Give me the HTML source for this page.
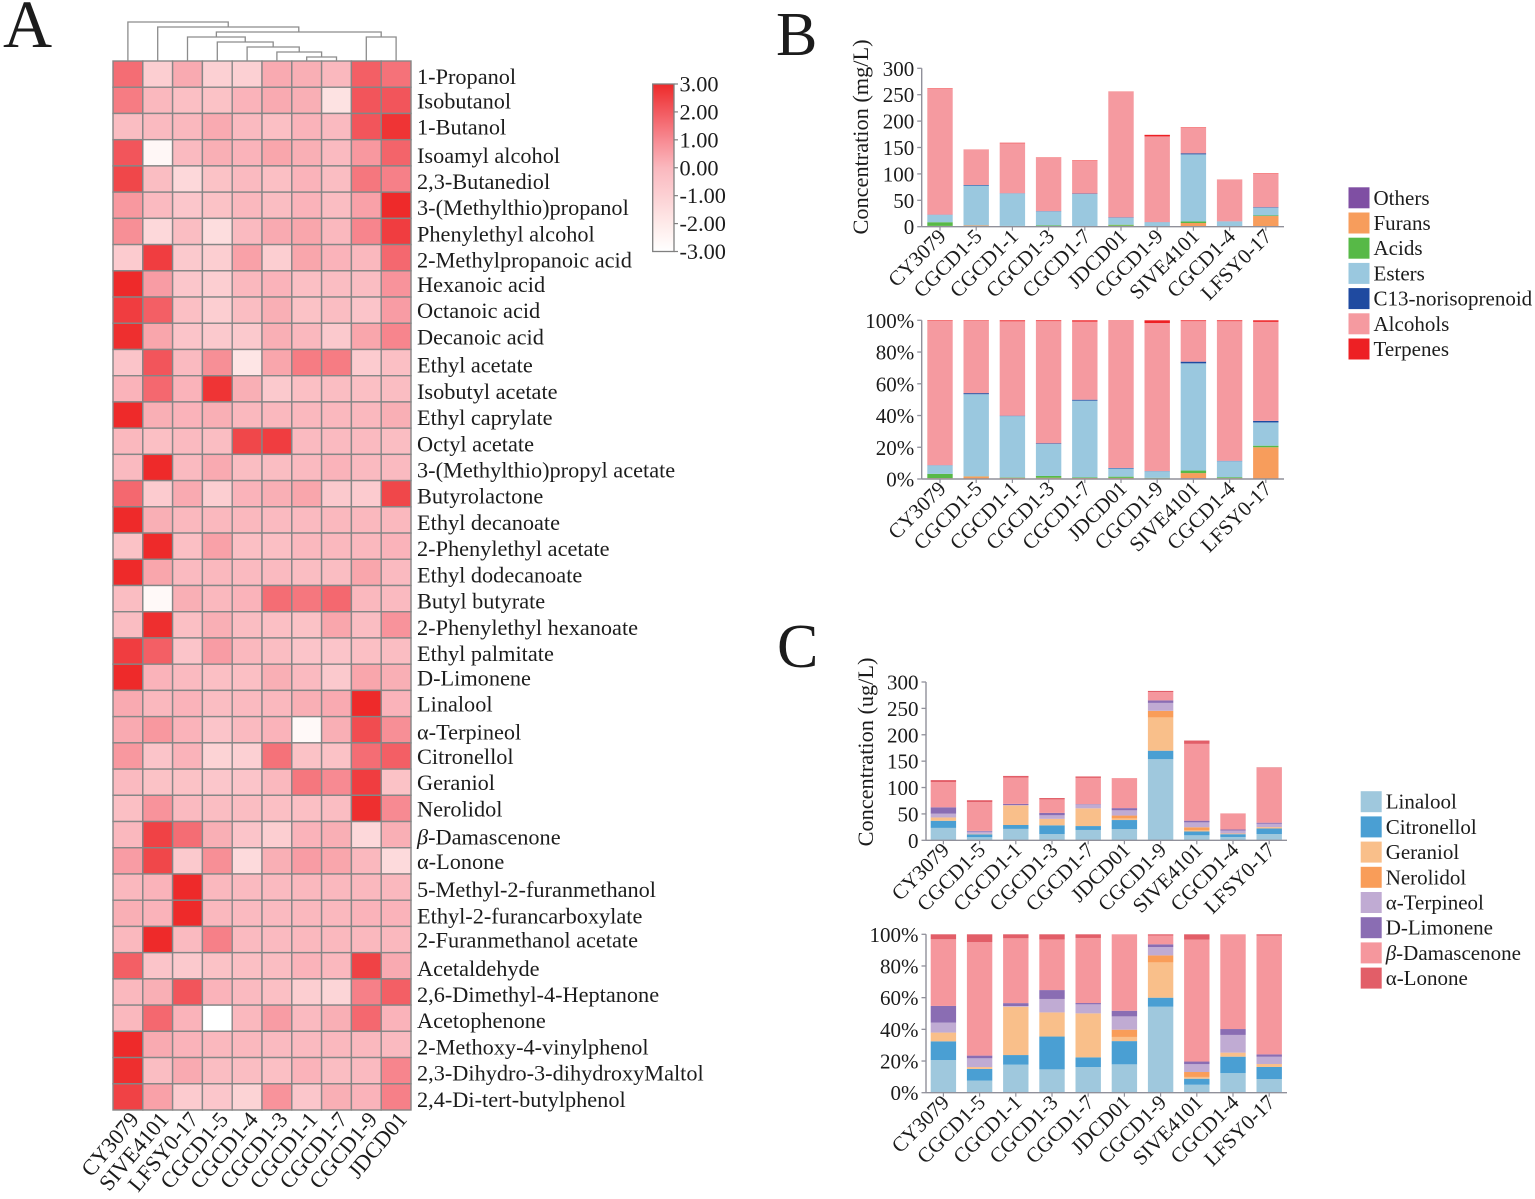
<!DOCTYPE html>
<html lang="en">
<head>
<meta charset="utf-8">
<title>Volatile compound heatmap and stacked bar charts</title>
<style>
html,body{margin:0;padding:0;background:#fff;}
svg{display:block;}
text{font-family:"Liberation Serif","DejaVu Serif",serif;fill:#1c1c1c;font-size:21px;}
text.big{font-size:22.3px;}
</style>
</head>
<body>
<svg id="figure" xmlns="http://www.w3.org/2000/svg" width="1535" height="1199" viewBox="0 0 1535 1199">
  <defs>
    <linearGradient id="cbar" x1="0" y1="1" x2="0" y2="0"></linearGradient>
  </defs>
  <text x="3" y="47" style="font-size:68px">A</text>
  <text x="776" y="55" style="font-size:62px">B</text>
  <text x="777" y="667" style="font-size:62px">C</text>
  <g id="heatmap"></g>
  <g id="dendrogram"></g>
  <g id="colorbar"></g>
  <g id="chartB1"></g>
  <g id="chartB2"></g>
  <g id="chartC1"></g>
  <g id="chartC2"></g>
  <g id="legendB"></g>
  <g id="legendC"></g>
</svg>
<script>
// ---------- Heatmap data ----------
const hmColumns = ["CY3079","SIVE4101","LFSY0-17","CGCD1-5","CGCD1-4","CGCD1-3","CGCD1-1","CGCD1-7","CGCD1-9","JDCD01"];
const hmRows = ["1-Propanol","Isobutanol","1-Butanol","Isoamyl alcohol","2,3-Butanediol","3-(Methylthio)propanol","Phenylethyl alcohol","2-Methylpropanoic acid","Hexanoic acid","Octanoic acid","Decanoic acid","Ethyl acetate","Isobutyl acetate","Ethyl caprylate","Octyl acetate","3-(Methylthio)propyl acetate","Butyrolactone","Ethyl decanoate","2-Phenylethyl acetate","Ethyl dodecanoate","Butyl butyrate","2-Phenylethyl hexanoate","Ethyl palmitate","D-Limonene","Linalool","α-Terpineol","Citronellol","Geraniol","Nerolidol","β-Damascenone","α-Lonone","5-Methyl-2-furanmethanol","Ethyl-2-furancarboxylate","2-Furanmethanol acetate","Acetaldehyde","2,6-Dimethyl-4-Heptanone","Acetophenone","2-Methoxy-4-vinylphenol","2,3-Dihydro-3-dihydroxyMaltol","2,4-Di-tert-butylphenol"];
const hmRaisedLabels = ["Isobutanol","1-Butanol","Hexanoic acid","Octanoic acid","Decanoic acid","D-Limonene","Linalool","Citronellol","Geraniol","Nerolidol","α-Lonone","2-Furanmethanol acetate"];
const hmValues = [
[1.6,-0.9,0.3,-1.0,-1.0,0.3,0.2,0.0,1.9,1.5],
[1.3,0.0,-0.3,-0.4,0.1,0.3,0.2,-1.7,2.1,2.1],
[-0.2,-0.1,0.0,0.3,-0.1,-0.3,0.1,-0.1,2.1,2.8],
[2.1,-2.6,-0.1,0.2,0.1,0.4,0.2,-0.1,0.7,1.8],
[2.4,-0.2,-1.3,-0.4,-0.1,-0.3,0.1,-0.2,1.4,1.2],
[0.7,-0.1,-0.6,-0.4,0.0,-0.2,0.1,-0.2,0.5,3.0],
[0.9,-1.3,-0.2,-1.5,-0.1,0.3,0.4,0.0,1.1,2.6],
[-0.8,2.6,-0.7,-0.9,0.5,-0.9,0.4,0.1,0.0,1.7],
[3.0,0.6,-0.6,-0.9,0.0,0.1,-0.3,-0.2,-0.2,0.8],
[2.6,1.9,-0.3,-0.9,-0.2,0.2,-0.4,-0.2,-0.5,0.6],
[2.9,0.4,-0.5,-0.7,-0.7,0.2,0.0,-0.7,0.4,1.1],
[-0.5,2.1,-0.1,0.9,-1.8,0.4,1.3,1.3,-0.8,-0.3],
[0.1,1.7,0.1,2.8,0.2,-0.7,-0.3,-0.2,-0.3,-0.2],
[3.0,0.2,0.1,0.2,0.0,0.0,0.0,0.0,0.0,0.2],
[0.0,-0.3,-0.1,-0.2,2.4,2.6,-0.1,-0.1,-0.1,-0.2],
[-0.1,3.0,-0.1,0.3,-0.2,-0.2,-0.1,0.1,-0.1,-0.1],
[1.7,-0.8,0.3,-0.9,0.1,0.2,0.4,-0.7,-0.8,2.4],
[3.0,0.2,0.0,0.0,0.0,-0.1,-0.1,0.0,0.0,0.0],
[-0.4,3.0,-0.3,0.5,-0.3,-0.3,0.0,0.0,0.0,0.1],
[3.0,0.4,-0.1,0.0,-0.1,-0.1,-0.2,-0.2,0.4,-0.1],
[-0.2,-2.7,0.2,0.0,0.1,1.6,1.4,1.7,0.0,-0.1],
[-0.2,2.9,-0.3,0.2,-0.2,-0.3,-0.4,0.4,-0.2,0.8],
[2.6,1.9,-0.5,0.6,0.0,-0.2,-0.5,-0.5,-0.3,-0.2],
[3.0,0.1,-0.1,-0.3,-0.3,0.2,-0.1,-0.7,0.4,0.2],
[0.3,0.0,0.1,-0.2,-0.1,0.0,0.2,0.3,3.0,0.1],
[0.3,0.7,0.1,-0.5,-0.1,0.1,-2.7,0.2,2.3,0.9],
[0.7,-0.5,0.1,-1.1,-1.0,1.5,-0.4,-0.4,1.6,1.9],
[-0.1,-0.4,-0.4,-0.6,-0.5,0.0,1.4,1.0,2.6,-0.4],
[-0.3,0.8,-0.1,-0.2,-0.2,-0.3,-0.3,-0.2,2.9,1.0],
[0.0,2.5,1.6,0.2,-0.5,-0.9,0.1,0.2,-1.3,0.2],
[0.6,2.4,-0.7,0.9,-1.4,0.2,0.6,0.4,0.0,-1.4],
[0.0,0.1,3.0,0.0,-0.1,-0.1,0.0,0.0,0.0,0.0],
[0.2,0.1,3.0,0.0,-0.1,-0.1,0.0,0.0,0.1,0.1],
[0.0,3.0,-0.1,1.2,-0.1,-0.1,0.0,0.0,0.0,0.0],
[1.9,-0.5,-0.7,-0.4,-0.3,-0.2,0.1,0.0,2.5,0.3],
[0.0,0.2,2.1,0.1,-0.1,-0.3,-0.9,-1.2,1.2,1.9],
[0.0,1.7,0.1,-3.0,0.0,0.6,-0.1,0.2,1.7,0.1],
[3.0,0.3,0.1,0.0,0.0,-0.1,-0.1,0.0,0.0,-0.1],
[2.9,-0.2,0.3,-0.2,-0.2,-0.3,0.1,-0.2,-0.1,1.1],
[2.5,0.5,-0.8,-0.6,-1.1,0.8,-0.6,0.2,0.1,1.2]
];
// dendrogram merges: [left node, right node, height]; nodes 0-9 are leaves, 10+ are earlier merges
const dendroMerges = [[6,7,4],[5,10,9],[4,11,14],[3,12,19],[2,13,24],[8,9,24],[14,15,29],[1,16,34],[0,17,39]];
const colorbarTicks = ["3.00","2.00","1.00","0.00","-1.00","-2.00","-3.00"];

// ---------- Panel B data (mg/L) ----------
const bCategories = ["CY3079","CGCD1-5","CGCD1-1","CGCD1-3","CGCD1-7","JDCD01","CGCD1-9","SIVE4101","CGCD1-4","LFSY0-17"];
const bOthers =   [1,0.3,0.2,0.5,0.3,0.8,0.3,1,0.2,0.2];
const bFurans =   [0.5,2,1,0.5,0.5,1,0.5,6,0.3,20];
const bAcids =    [7,0.2,0.3,1.5,0.5,2,0.5,3,0.5,1];
const bEsters =   [14,75.5,61.5,26.5,60.7,13.2,7.2,127,9,14.8];
const bC13 =      [0.3,1,0.4,0.5,0.7,0.8,0.2,2,0.2,1];
const bAlcohols = [238,66.5,94.6,101,61.8,237.7,162.3,48,78.3,63];
const bTerpenes = [1,0.5,1,0.7,1,0.5,3,1,0.5,1];
const bLegendNames = ["Others","Furans","Acids","Esters","C13-norisoprenoid","Alcohols","Terpenes"];
const bColors = ["#7f4fa3","#f79d5c","#57b947","#9ac8df","#1f4aa0","#f59aa0","#ed2024"];
const bCountTicks = [0,50,100,150,200,250,300];
const percentTicks = [0,20,40,60,80,100];

// ---------- Panel C data (ug/L) ----------
const cCategories = ["CY3079","CGCD1-5","CGCD1-1","CGCD1-3","CGCD1-7","JDCD01","CGCD1-9","SIVE4101","CGCD1-4","LFSY0-17"];
const cLinalool =   [23.5,5.8,21.6,11.8,19.6,21.1,153.7,9.5,6.3,11.9];
const cCitronellol =[13.5,5.6,7.4,16.6,7.4,17.3,16.1,7.2,5.3,10.5];
const cGeraniol =   [6.3,0.9,37.2,12.2,33.6,3.1,63.1,2.1,1.3,2.6];
const cNerolidol =  [0,0,0,0,0,5.4,12.5,5.9,0,0];
const cTerpineol =  [7.2,4.2,0.5,6.8,6.9,9.9,15,9.3,5.7,6.3];
const cLimonene =   [12,1.3,2.3,4.5,1,4.2,4.8,3.2,1.9,2.1];
const cDamascenone =[48,54.4,49.9,25.6,49.7,56.9,15.6,145.5,30.5,103.5];
const cLonone =     [3.6,3.8,3.1,2.6,2.8,0,2.3,6.4,0,1.1];
const cLegendNames = ["Linalool","Citronellol","Geraniol","Nerolidol","α-Terpineol","D-Limonene","β-Damascenone","α-Lonone"];
const cColors = ["#9fc8dd","#4a9fd3","#f9bf8a","#f99d59","#c0abd3","#8a6db3","#f5979d","#e25e68"];
const cCountTicks = [0,50,100,150,200,250,300];

// ---------- Helpers ----------
const NS = "http://www.w3.org/2000/svg";
function make(tag, parent, attrs, txt){
  const n = document.createElementNS(NS, tag);
  for (const k in attrs) n.setAttribute(k, attrs[k]);
  if (txt !== undefined) n.textContent = txt;
  parent.appendChild(n);
  return n;
}
function heatColor(v){
  const stops = [[-3,255,255,255],[-2,254,234,233],[-1,252,208,211],[0,250,184,190],[1,247,138,146],[2,242,90,96],[3,238,42,42]];
  const c = Math.max(-3, Math.min(3, v));
  for (let i = 0; i < stops.length - 1; i++){
    const a = stops[i], b = stops[i+1];
    if (c <= b[0]){
      const t = (c - a[0]) / (b[0] - a[0]);
      return "rgb(" + [1,2,3].map(j => Math.round(a[j] + (b[j]-a[j])*t)).join(",") + ")";
    }
  }
  return "rgb(238,42,42)";
}

// ---------- Heatmap ----------
const hmLeft = 113, hmRight = 411, hmTop = 61, hmBottom = 1110;
const hmX = i => hmLeft + i * (hmRight - hmLeft) / hmColumns.length;
const hmY = i => hmTop + i * (hmBottom - hmTop) / hmRows.length;
const hmG = document.getElementById("heatmap");
hmRows.forEach((row, r) => {
  hmColumns.forEach((col, c) => {
    const cell = make("rect", hmG, {x:hmX(c), y:hmY(r), width:hmX(c+1)-hmX(c), height:hmY(r+1)-hmY(r), fill:heatColor(hmValues[r][c]), stroke:"#868686", "stroke-width":1.4});
    
    
  });
  const nudge = hmRaisedLabels.includes(row) ? -2 : 0;
  const rowLabel = make("text", hmG, {x:417, y:(hmY(r)+hmY(r+1))/2 + 10 + nudge, class:"big"}, "");
  
  
  if (row.startsWith("β")){
    make("tspan", rowLabel, {"font-style":"italic"}, "β");
    make("tspan", rowLabel, {}, row.slice(1));
  } else {
    rowLabel.textContent = row;
  }
});
hmColumns.forEach((col, c) => {
  const cx = (hmX(c)+hmX(c+1))/2;
  const colLabel = make("text", hmG, {"text-anchor":"end", class:"big", transform:"translate(" + (cx+12) + ",1120) rotate(-50)"}, col);
  
  
});

// ---------- Dendrogram ----------
const dG = document.getElementById("dendrogram");
const nodeX = hmColumns.map((_, c) => (hmX(c)+hmX(c+1))/2);
const nodeH = hmColumns.map(() => 0);
dendroMerges.forEach(m => {
  const y = hmTop - m[2];
  const d = "M" + nodeX[m[0]] + " " + (hmTop - nodeH[m[0]]) + "V" + y + "H" + nodeX[m[1]] + "V" + (hmTop - nodeH[m[1]]);
  const link = make("path", dG, {d:d, fill:"none", stroke:"#8c8c8c", "stroke-width":1.3});
  
  
  nodeX.push((nodeX[m[0]] + nodeX[m[1]]) / 2);
  nodeH.push(m[2]);
});

// ---------- Colour bar ----------
const gradient = document.getElementById("cbar");
for (let i = 0; i <= 12; i++){
  make("stop", gradient, {offset:(i/12*100)+"%", "stop-color":heatColor(-3 + i/2)});
}
const cbG = document.getElementById("colorbar");
const cbTop = 84, cbBottom = 251.5;
const cbBox = make("rect", cbG, {x:652.7, y:cbTop, width:21.3, height:cbBottom-cbTop, fill:"url(#cbar)", stroke:"#808080", "stroke-width":1.3});


colorbarTicks.forEach((t, i) => {
  const y = cbTop + i * (cbBottom - cbTop) / (colorbarTicks.length - 1);
  const tick = make("line", cbG, {x1:674, x2:678, y1:y, y2:y, stroke:"#808080", "stroke-width":1.2});
  
  
  const lab = make("text", cbG, {x:679.5, y:y+7.5, class:"big"}, t);
  
  
});

// ---------- Stacked bars ----------
function stackedChart(id, opt){
  const g = document.getElementById(id);
  const yScale = v => opt.base - (v / opt.max) * (opt.base - opt.top);
  const xBar = i => opt.firstBar + i * opt.pitch;
  const axis = "#90909a";
  opt.ticks.forEach(t => {
    const y = yScale(t);
    const tick = make("line", g, {x1:opt.axisX-4.5, x2:opt.axisX, y1:y, y2:y, stroke:axis, "stroke-width":1.3});
    
    
    const lab = make("text", g, {x:opt.axisX-7.5, y:y+7.5, "text-anchor":"end"}, t + opt.suffix);
    
    
  });
  opt.categories.forEach((cat, i) => {
    const total = opt.series.reduce((s, arr) => s + arr[i], 0);
    let cum = 0;
    opt.series.forEach((arr, k) => {
      const a = opt.normalize ? cum / total * 100 : cum;
      cum += arr[i];
      const b = opt.normalize ? cum / total * 100 : cum;
      if (arr[i] <= 0) return;
      const seg = make("rect", g, {x:xBar(i), y:yScale(b), width:opt.barW, height:yScale(a)-yScale(b), fill:opt.colors[k]});
      
      
    });
    const cx = xBar(i) + opt.barW / 2;
    const xt = make("line", g, {x1:cx, x2:cx, y1:opt.base, y2:opt.base+4, stroke:axis, "stroke-width":1.2});
    
    
    const xl = make("text", g, {"text-anchor":"end", transform:"translate(" + (cx+7) + "," + (opt.base+11) + ") rotate(-45)"}, cat);
    
    
  });
  const yAxis = make("line", g, {x1:opt.axisX, x2:opt.axisX, y1:opt.top, y2:opt.base, stroke:axis, "stroke-width":1.4});
  
  
  const xAxis = make("line", g, {x1:opt.axisX, x2:opt.axisEnd, y1:opt.base, y2:opt.base, stroke:axis, "stroke-width":1.4});
  
  
  if (opt.title){
    const title = make("text", g, {"text-anchor":"middle", class:"big", transform:"translate(" + opt.titleX + "," + opt.titleY + ") rotate(-90)"}, opt.title);
    
    
  }
}
const bSeries = [bOthers,bFurans,bAcids,bEsters,bC13,bAlcohols,bTerpenes];
const cSeries = [cLinalool,cCitronellol,cGeraniol,cNerolidol,cTerpineol,cLimonene,cDamascenone,cLonone];
stackedChart("chartB1",{categories:bCategories,series:bSeries,colors:bColors,ticks:bCountTicks,suffix:"",max:300,normalize:false,axisX:921.7,axisEnd:1284,base:226.7,top:68.3,firstBar:927.3,pitch:36.2,barW:25.4,title:"Concentration (mg/L)",titleX:868,titleY:137});
stackedChart("chartB2",{categories:bCategories,series:bSeries,colors:bColors,ticks:percentTicks,suffix:"%",max:100,normalize:true,axisX:921.7,axisEnd:1284,base:479,top:320.3,firstBar:927.3,pitch:36.2,barW:25.4});
stackedChart("chartC1",{categories:cCategories,series:cSeries,colors:cColors,ticks:cCountTicks,suffix:"",max:300,normalize:false,axisX:926,axisEnd:1287,base:840.3,top:682,firstBar:930.7,pitch:36.2,barW:25.4,title:"Concentration (ug/L)",titleX:873,titleY:752});
stackedChart("chartC2",{categories:cCategories,series:cSeries,colors:cColors,ticks:percentTicks,suffix:"%",max:100,normalize:true,axisX:926,axisEnd:1287,base:1092.7,top:934.3,firstBar:930.7,pitch:36.2,barW:25.4});

// ---------- Legends ----------
function legend(id, names, colors, x, y0){
  const g = document.getElementById(id);
  names.forEach((name, i) => {
    const cy = y0 + i * 25.2;
    const sw = make("rect", g, {x:x, y:cy-10.5, width:21, height:21, fill:colors[i]});
    
    
    const t = make("text", g, {x:x+25, y:cy+7}, "");
    
    
    if (name.startsWith("β")){
      make("tspan", t, {"font-style":"italic"}, "β");
      make("tspan", t, {}, name.slice(1));
    } else {
      t.textContent = name;
    }
  });
}
legend("legendB", bLegendNames, bColors, 1348.5, 197.8);
legend("legendC", cLegendNames, cColors, 1360.7, 801.7);
</script>
</body>
</html>
